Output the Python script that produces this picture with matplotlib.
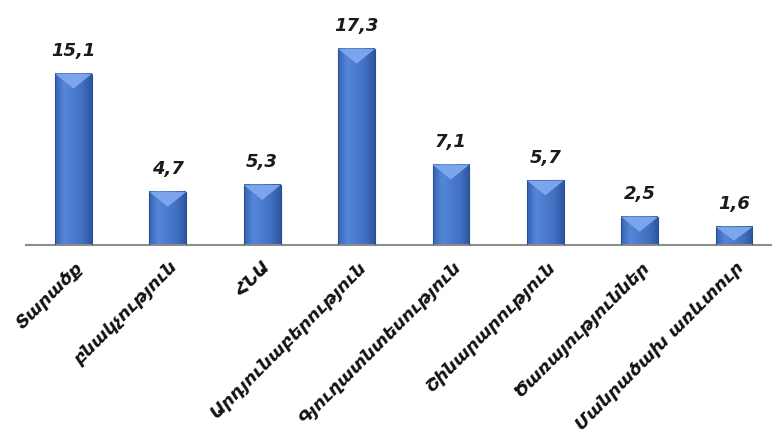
import numpy as np
import matplotlib.pyplot as plt
from matplotlib.colors import LinearSegmentedColormap
from matplotlib.patches import Polygon

# Ոլորտներ և արժեքներ
categories = ["Տարածք", "բնակչություն", "ՀՆԱ", "Արդյունաբերություն",
              "Գյուղատնտեսություն", "Շինարարություն", "Ծառայություններ",
              "Մանրածախ առևտուր"]
values = [15.1, 4.7, 5.3, 17.3, 7.1, 5.7, 2.5, 1.6]
value_labels = ["15,1", "4,7", "5,3", "17,3", "7,1", "5,7", "2,5", "1,6"]

fig = plt.figure(figsize=(7.72, 4.41), dpi=100)
ax = fig.add_axes([0.034, 0.444, 0.978, 0.515])

bw = 0.39
ymax = 20.0
ax.set_xlim(-0.5, len(values) - 0.5)
ax.set_ylim(0, ymax)

# horizontal gradient for the column body
cmap = LinearSegmentedColormap.from_list(
    "col", ["#3763b4", "#5587d8", "#4a7bcd", "#4170c2", "#2e569f"])
grad = np.linspace(0, 1, 64).reshape(1, -1)

# pixel -> data height for the pyramid cap
px_per_unit = 0.515 * 441 / ymax
cap_h = 15 / px_per_unit

for i, v in enumerate(values):
    x0, x1 = i - bw / 2, i + bw / 2
    ax.imshow(grad, cmap=cmap, extent=[x0, x1, 0, v], aspect="auto",
              interpolation="bicubic", zorder=2)
    ax.add_patch(plt.Rectangle((x0, 0), bw, v, fill=False,
                               edgecolor="#2a4f94", lw=0.8, zorder=3))
    h = min(cap_h, v * 0.75)
    ax.add_patch(Polygon([[x0, v], [x1, v], [i, v - h]], closed=True,
                         facecolor="#7fa8ee", edgecolor="none", alpha=0.95,
                         zorder=3))
    ax.annotate(value_labels[i], (i, v), xytext=(0, 10),
                textcoords="offset points", ha="center", va="bottom",
                fontsize=13, fontweight="bold", style="italic",
                color="#1a1a1a")

ax.set_aspect("auto")
for s in ["top", "right", "left"]:
    ax.spines[s].set_visible(False)
ax.spines["bottom"].set_color("#8c8c8c")
ax.spines["bottom"].set_linewidth(1.5)
ax.set_yticks([])
ax.set_xticks(range(len(categories)))
ax.set_xticklabels(categories, rotation=45, ha="right", va="top",
                   rotation_mode="anchor", fontsize=12.5, fontweight="bold",
                   style="italic", color="#111111")
ax.tick_params(axis="x", length=0, pad=9)

fig.savefig("out.png", dpi=100)
